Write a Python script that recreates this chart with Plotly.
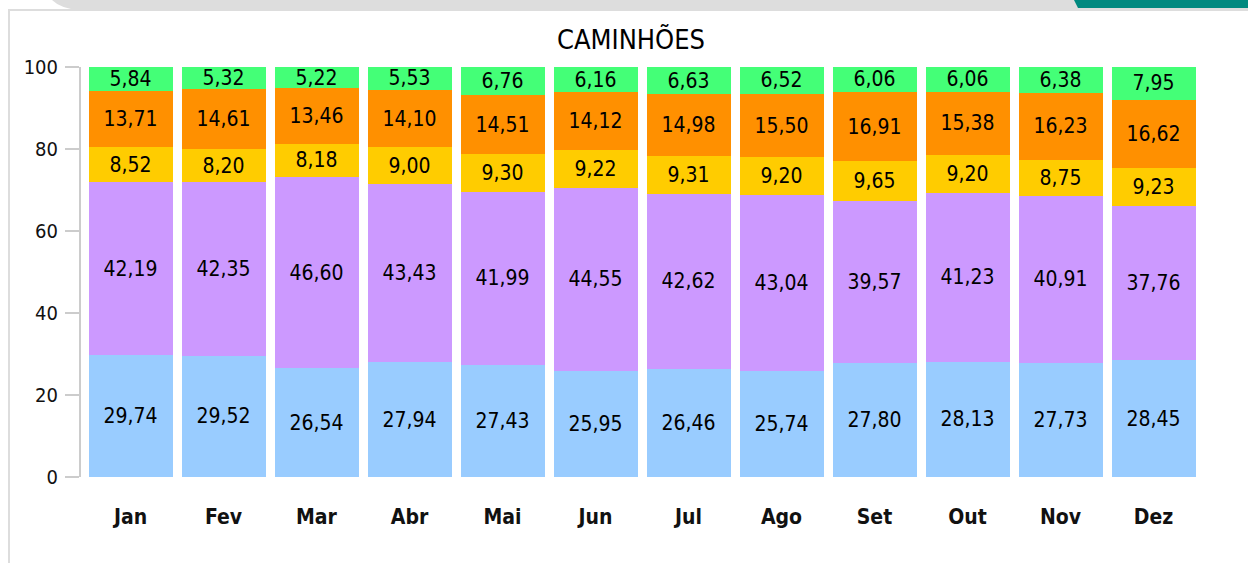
import plotly.graph_objects as go

months = ["Jan", "Fev", "Mar", "Abr", "Mai", "Jun", "Jul", "Ago", "Set", "Out", "Nov", "Dez"]
serie_azul = [29.74, 29.52, 26.54, 27.94, 27.43, 25.95, 26.46, 25.74, 27.80, 28.13, 27.73, 28.45]
serie_roxa = [42.19, 42.35, 46.60, 43.43, 41.99, 44.55, 42.62, 43.04, 39.57, 41.23, 40.91, 37.76]
serie_amarela = [8.52, 8.20, 8.18, 9.00, 9.30, 9.22, 9.31, 9.20, 9.65, 9.20, 8.75, 9.23]
serie_laranja = [13.71, 14.61, 13.46, 14.10, 14.51, 14.12, 14.98, 15.50, 16.91, 15.38, 16.23, 16.62]
serie_verde = [5.84, 5.32, 5.22, 5.53, 6.76, 6.16, 6.63, 6.52, 6.06, 6.06, 6.38, 7.95]
y_ticks = [0, 20, 40, 60, 80, 100]
title_text = "CAMINHÕES"

series = [
    ("Série 1", serie_azul, "#99CCFF"),
    ("Série 2", serie_roxa, "#CC99FF"),
    ("Série 3", serie_amarela, "#FFCC00"),
    ("Série 4", serie_laranja, "#FF9000"),
    ("Série 5", serie_verde, "#44FF77"),
]

WIDTH, HEIGHT = 1248, 563
L, R, T, B = 81, 48, 67, 86
PW = WIDTH - L - R
PH = HEIGHT - T - B
FONT = "DejaVu Sans Condensed, DejaVu Sans, sans-serif"


def xp(px):
    return (px - L) / PW


def yp(py):
    return (HEIGHT - B - py) / PH


fig = go.Figure()
for name, vals, color in series:
    fig.add_trace(go.Bar(
        x=months, y=vals, name=name,
        marker=dict(color=color, line=dict(width=0)),
        text=vals, texttemplate="%{y:.2f}",
        textposition="inside", insidetextanchor="middle", textangle=0,
        textfont=dict(family=FONT, size=21, color="#000000"),
        hoverinfo="skip",
    ))

shapes = [
    # top gray band with rounded left end
    dict(type="path", xref="paper", yref="paper",
         path=(f"M {xp(52)},{yp(0)} L {xp(1248)},{yp(0)} L {xp(1248)},{yp(10)} "
               f"L {xp(78)},{yp(10)} Q {xp(60)},{yp(8)} {xp(52)},{yp(0)} Z"),
         fillcolor="#DDDDDD", line=dict(width=0), layer="below"),
    # teal tab at top right
    dict(type="path", xref="paper", yref="paper",
         path=(f"M {xp(1074)},{yp(0)} L {xp(1248)},{yp(0)} L {xp(1248)},{yp(8)} "
               f"L {xp(1078)},{yp(8)} Z"),
         fillcolor="#00897F", line=dict(width=0), layer="below"),
    # frame lines
    dict(type="line", xref="paper", yref="paper",
         x0=xp(8), x1=xp(1248), y0=yp(10), y1=yp(10),
         line=dict(color="#DDDDDD", width=2), layer="below"),
    dict(type="line", xref="paper", yref="paper",
         x0=xp(9), x1=xp(9), y0=yp(10), y1=yp(563),
         line=dict(color="#DDDDDD", width=2), layer="below"),
]

fig.update_layout(
    width=WIDTH, height=HEIGHT,
    barmode="stack", bargap=9 / 93,
    separators=",.",
    showlegend=False,
    plot_bgcolor="#FFFFFF", paper_bgcolor="#FFFFFF",
    margin=dict(l=L, r=R, t=T, b=B, pad=0),
    uniformtext=dict(minsize=21, mode="show"),
    title=dict(text=title_text, x=xp(631), xref="paper", xanchor="center",
               y=1 - 40 / HEIGHT, yref="container", yanchor="middle",
               font=dict(family=FONT, size=27, color="#000000")),
    xaxis=dict(range=[-0.5 - 3 / 93, 11.5], showline=False, showgrid=False,
               zeroline=False, ticks="", ticklabelstandoff=25,
               tickfont=dict(family=FONT, size=21, color="#111111", weight="bold")),
    yaxis=dict(range=[0, 100], tickvals=y_ticks, showgrid=False, zeroline=False,
               showline=True, linecolor="#CCCCCC", linewidth=2,
               ticks="outside", ticklen=14, tickwidth=2, tickcolor="#CCCCCC",
               ticklabelstandoff=3,
               tickfont=dict(family=FONT, size=20, color="#111111")),
    shapes=shapes,
)

fig.write_html("out.html", config={"displayModeBar": False},
               post_script="document.body.style.margin='0px';document.body.style.padding='0px';")
